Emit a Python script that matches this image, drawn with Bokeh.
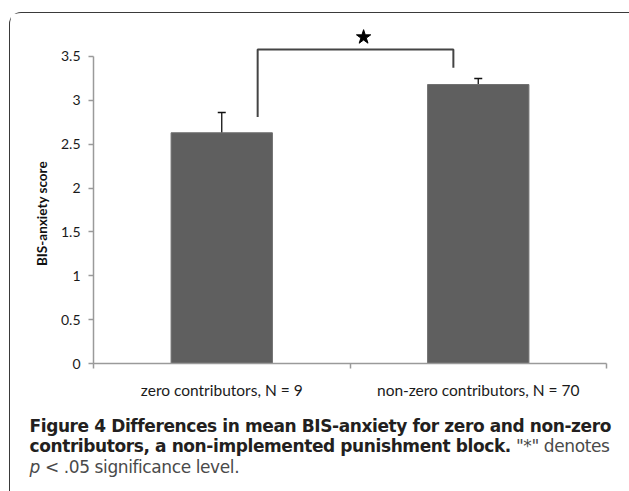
from bokeh.plotting import figure
from bokeh.models import (ColumnDataSource, Whisker, TeeHead, FixedTicker, Range1d, Div)
from bokeh.layouts import column
from bokeh.embed import file_html
from bokeh.resources import INLINE

# ---- data ----
categories = ["zero contributors, N = 9", "non-zero contributors, N = 70"]
means = [2.63, 3.18]
errors = [0.232, 0.07]
y_ticks = [0, 0.5, 1, 1.5, 2, 2.5, 3, 3.5]
y_tick_labels = ["0", "0.5", "1", "1.5", "2", "2.5", "3", "3.5"]
y_label = "BIS-anxiety score"
# significance bracket (data units)
bracket_x = [0.64, 1.403]
bracket_leg_bottom = [2.81, 3.37]
bracket_top = 3.58
star_xy = (1.053, 3.72)

caption_l1 = "Figure 4 Differences in mean BIS-anxiety for zero and non-zero"
caption_l2_bold = "contributors, a non-implemented punishment block."
caption_l2_reg = "\"*\" denotes"
caption_l3_it = "p"
caption_l3_reg = "&lt; .05 significance level."

xs = [i + 0.5 for i in range(len(categories))]
src = ColumnDataSource(dict(
    x=xs, mean=means,
    upper=[m + e for m, e in zip(means, errors)],
    lower=[m - e for m, e in zip(means, errors)],
))

W, H = 618, 390
p = figure(width=W, height=H, x_range=Range1d(0, len(categories)), y_range=Range1d(0, 3.83),
           output_backend="svg", toolbar_location=None,
           min_border_left=83, min_border_right=22, min_border_top=14, min_border_bottom=40)
p.xgrid.visible = False
p.ygrid.visible = False
p.outline_line_color = None
p.background_fill_color = "white"
p.border_fill_color = "white"

axis_col = "#9a9a9a"
# y axis
ya = p.yaxis[0]
ya.ticker = FixedTicker(ticks=y_ticks)
ya.major_label_overrides = {t: l for t, l in zip(y_ticks, y_tick_labels)}
ya.bounds = (0, 3.5)
ya.axis_line_color = axis_col
ya.axis_line_width = 1.5
ya.major_tick_line_color = axis_col
ya.major_tick_line_width = 1.5
ya.major_tick_out = 5
ya.major_tick_in = 0
ya.minor_tick_line_color = None
ya.major_label_text_font = "Lato"
ya.major_label_text_font_size = "14px"
ya.major_label_text_color = "#1a1a1a"
ya.major_label_standoff = 8
# trailing no-break spaces centre the visible label on the 0-3.5 span
ya.axis_label = y_label + "\u00a0" * 11
ya.axis_label_text_font = "Lato"
ya.axis_label_text_font_style = "bold"
ya.axis_label_text_font_size = "13.5px"
ya.axis_label_text_color = "#111111"
ya.axis_label_standoff = 8

# x axis
xa = p.xaxis[0]
xa.ticker = FixedTicker(ticks=xs, minor_ticks=[0, 1, 2])
xa.major_label_overrides = {x: c for x, c in zip(xs, categories)}
xa.axis_line_color = axis_col
xa.axis_line_width = 1.5
xa.major_tick_line_color = None
xa.major_tick_out = 0
xa.major_tick_in = 0
xa.minor_tick_line_color = axis_col
xa.minor_tick_line_width = 1.5
xa.minor_tick_out = 5
xa.minor_tick_in = 0
xa.major_label_text_font = "Lato"
xa.major_label_text_font_size = "15.5px"
xa.major_label_text_color = "#1a1a1a"
xa.major_label_standoff = 12

# bars
p.vbar(x="x", top="mean", width=0.395, source=src, fill_color="#5f5f5f",
       line_color="#707070", line_width=1)

# error bars
p.add_layout(Whisker(base="x", upper="upper", lower="lower", source=src,
                     line_color="#111111", line_width=1.3,
                     upper_head=TeeHead(size=8, line_color="#111111", line_width=1.5),
                     lower_head=TeeHead(size=8, line_color="#111111", line_width=1.5)))

# significance bracket
p.line(x=[bracket_x[0], bracket_x[0], bracket_x[1], bracket_x[1]],
       y=[bracket_leg_bottom[0], bracket_top, bracket_top, bracket_leg_bottom[1]],
       line_color="#444444", line_width=2)
p.scatter(x=[star_xy[0]], y=[star_xy[1]], marker="star", size=15,
          fill_color="black", line_color="black")

LH = "20.6px"
reg = "color:#4a4a4a; font-weight:normal"
caption_html = (
    '<div style="padding:7.5px 0 0 14.5px; font-family:\'DejaVu Sans\'; font-size:17px; '
    f'letter-spacing:-0.4px; line-height:{LH}; color:#231f20; white-space:nowrap">'
    f'<div style="font-weight:bold">{caption_l1}</div>'
    f'<div><b>{caption_l2_bold}</b> <span style="{reg}">{caption_l2_reg}</span></div>'
    f'<div style="{reg}"><i>{caption_l3_it}</i> {caption_l3_reg}</div>'
    '</div>'
)
cap = Div(text=caption_html, width=W, height=87)

layout = column(p, cap, margin=(12, 0, 0, 9), spacing=0,
                styles={"border-left": "1.5px solid #3a3a3a",
                        "border-top": "1.5px solid #3a3a3a",
                        "border-top-left-radius": "12px",
                        "background-color": "white"})

open("out.html", "w").write(file_html(layout, INLINE))
